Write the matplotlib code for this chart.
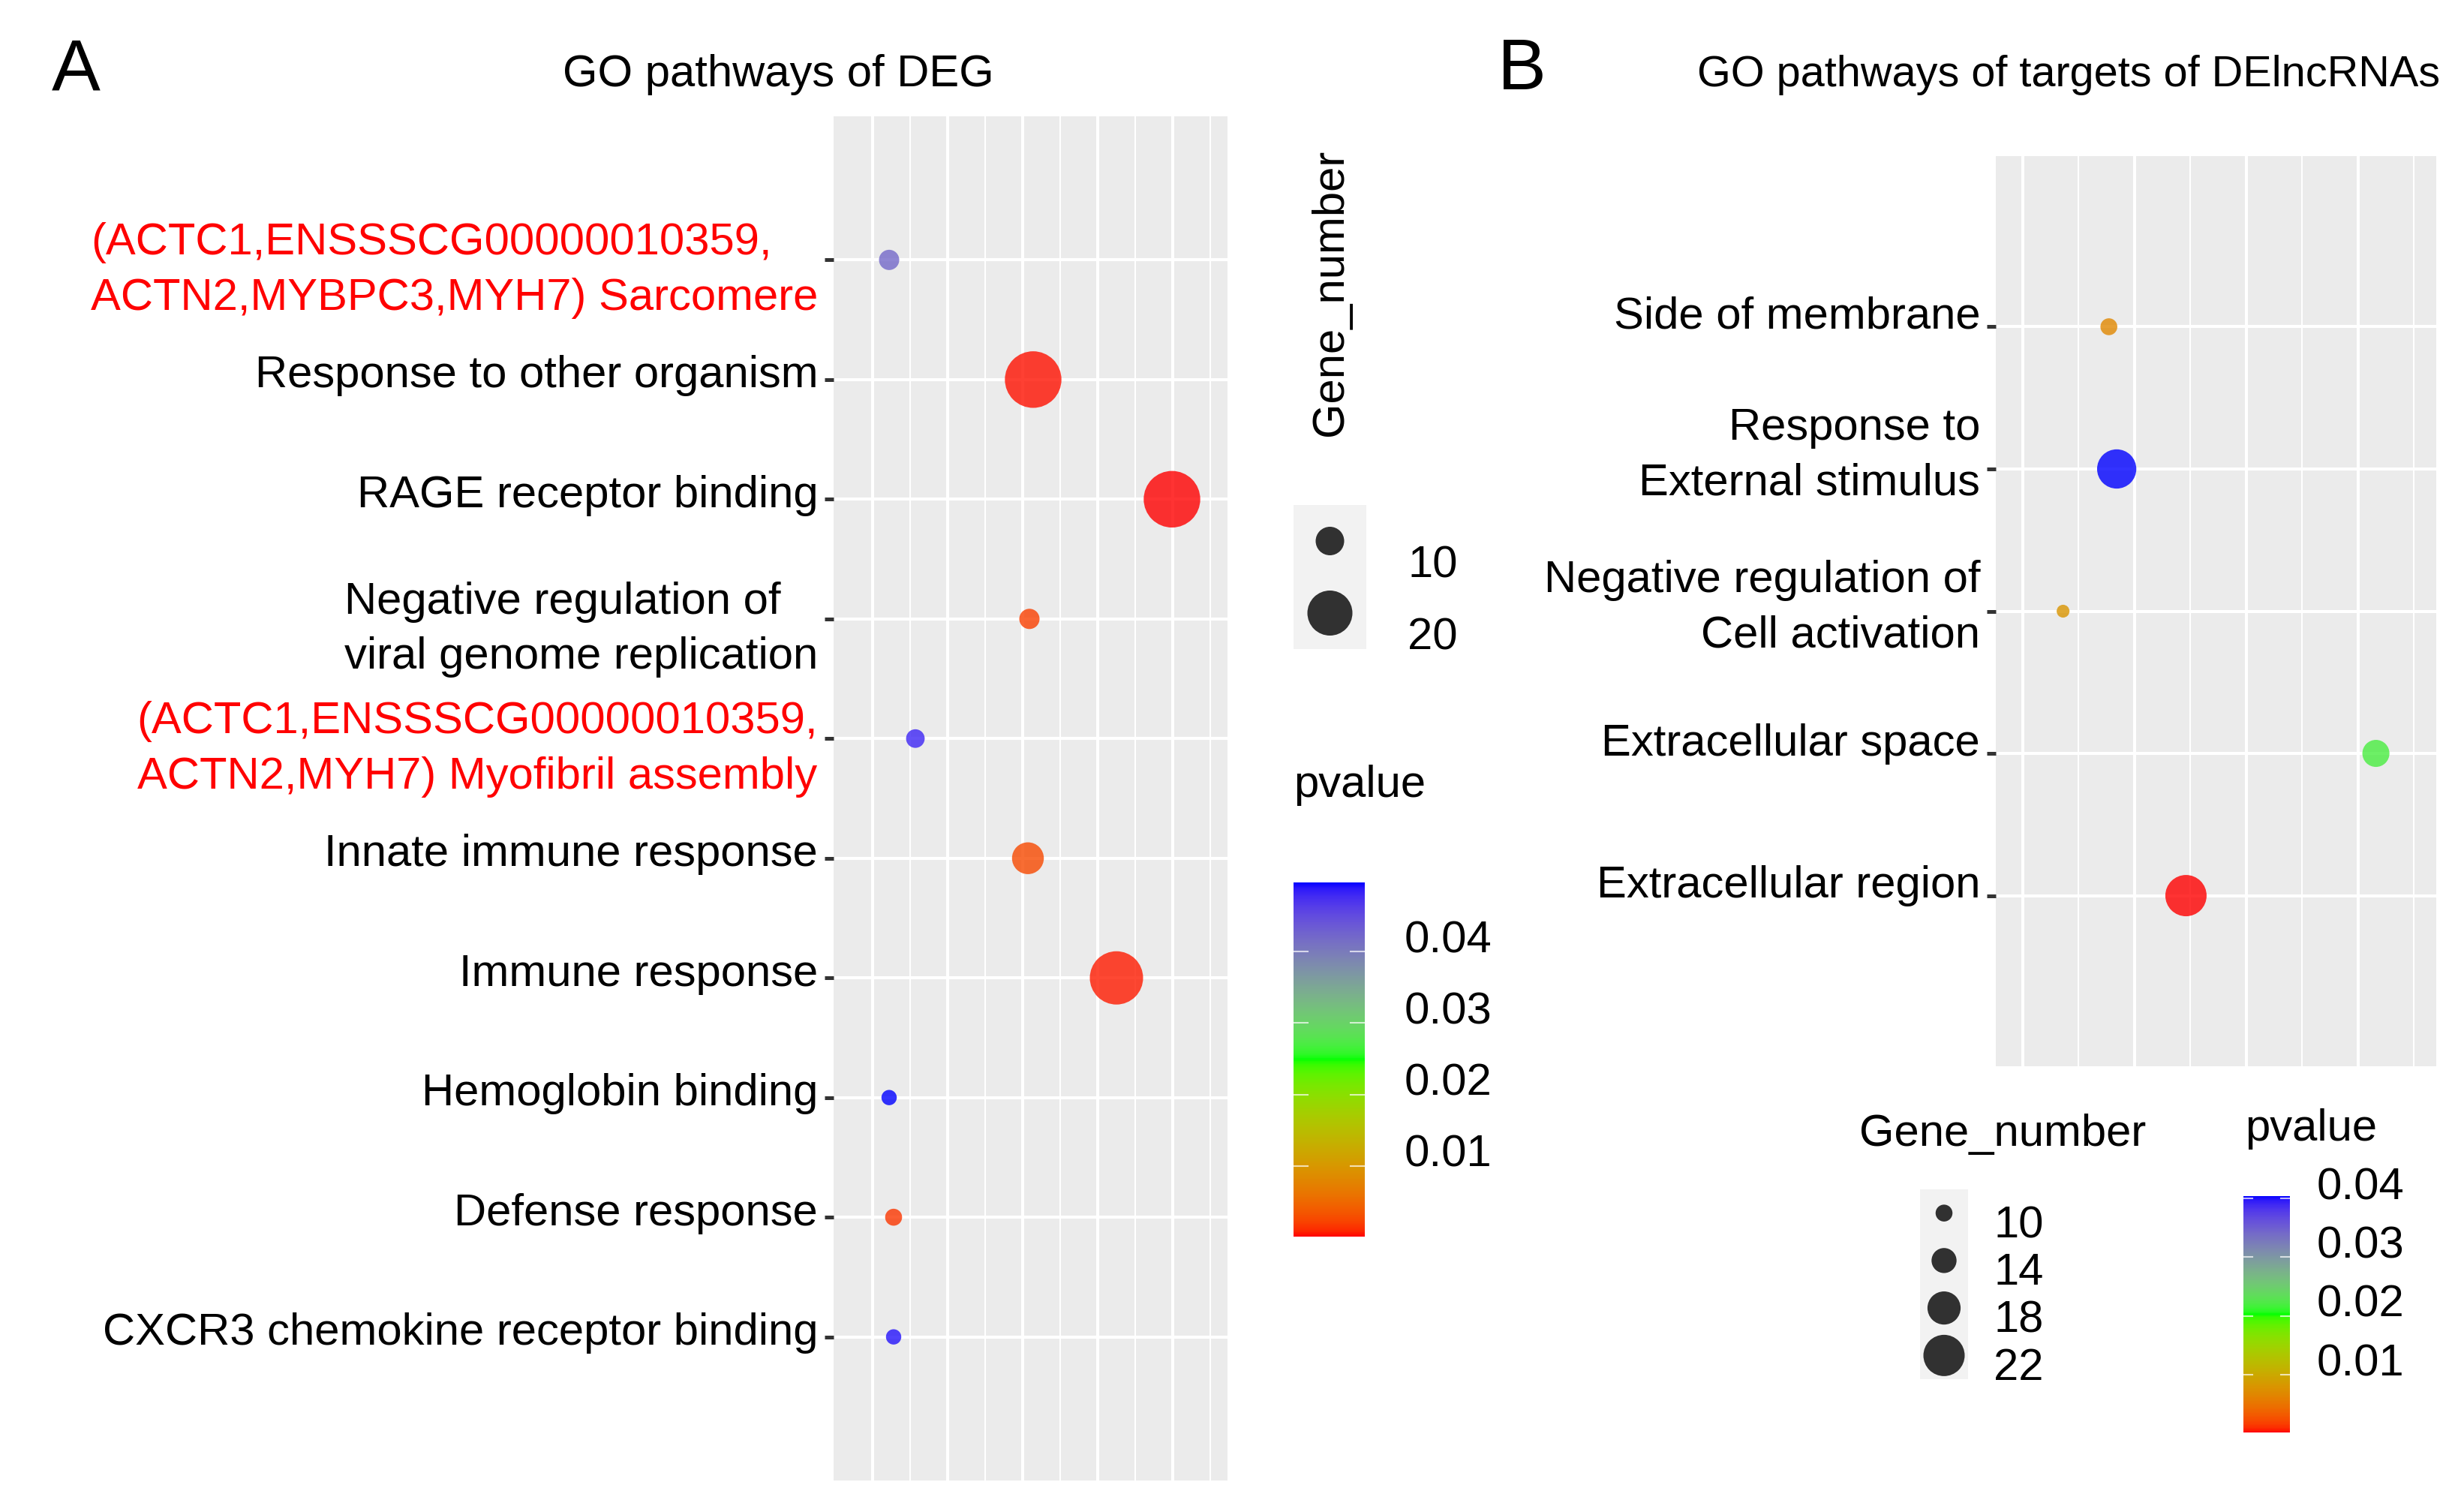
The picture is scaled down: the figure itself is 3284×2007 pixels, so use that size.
import numpy as np
import matplotlib
matplotlib.use("Agg")
import matplotlib.pyplot as plt
import matplotlib.colorbar as mcolorbar
from matplotlib.colors import ListedColormap, Normalize
from matplotlib import transforms

plt.rcParams['font.family'] = ['Liberation Sans', 'DejaVu Sans']

W, H, DPI = 3284, 2008, 100
FS = 43

# ---- panel A : GO pathways of DEG (top to bottom)
terms_a = ["(ACTC1,ENSSSCG00000010359,\nACTN2,MYBPC3,MYH7) Sarcomere",
           "Response to other organism",
           "RAGE receptor binding",
           "Negative regulation of\nviral genome replication",
           "(ACTC1,ENSSSCG00000010359,\nACTN2,MYH7) Myofibril assembly",
           "Innate immune response",
           "Immune response",
           "Hemoglobin binding",
           "Defense response",
           "CXCR3 chemokine receptor binding"]
red_a = [True, False, False, False, True, False, False, False, False, False]
x_a = [1.22, 3.14, 4.99, 3.09, 1.57, 3.07, 4.25, 1.22, 1.28, 1.28]
genes_a = [5, 27, 27, 5, 4, 12, 25, 2, 3, 2]
pval_a = [0.042, 0.0004, 0.0001, 0.002, 0.048, 0.0025, 0.0006, 0.0497, 0.0015, 0.049]
gene_breaks_a = [10, 20]

# ---- panel B : GO pathways of targets of DElncRNAs
terms_b = ["Side of membrane",
           "Response to\nExternal stimulus",
           "Negative regulation of\nCell activation",
           "Extracellular space",
           "Extracellular region"]
x_b = [1.77, 1.84, 1.36, 4.16, 2.46]
genes_b = [10, 21, 8, 15, 22]
pval_b = [0.0067, 0.0404, 0.0079, 0.022, 0.0002]
gene_breaks_b = [10, 14, 18, 22]

p_breaks = [0.01, 0.02, 0.03, 0.04]


# red -> green -> blue, interpolated in Lab like ggplot's gradient2
M = np.array([[0.4124564, 0.3575761, 0.1804375],
              [0.2126729, 0.7151522, 0.0721750],
              [0.0193339, 0.1191920, 0.9503041]])
WHITE = np.array([0.95047, 1.0, 1.08883])


def to_lab(c):
    c = np.asarray(c, float)
    lin = np.where(c <= 0.04045, c / 12.92, ((c + 0.055) / 1.055) ** 2.4)
    xyz = M @ lin / WHITE
    f = np.where(xyz > (6 / 29) ** 3, np.cbrt(xyz), xyz / (3 * (6 / 29) ** 2) + 4 / 29)
    return np.array([116 * f[1] - 16, 500 * (f[0] - f[1]), 200 * (f[1] - f[2])])


def from_lab(lab):
    L, a, b = lab
    fy_ = (L + 16) / 116
    f = np.array([fy_ + a / 500, fy_, fy_ - b / 200])
    xyz = np.where(f > 6 / 29, f ** 3, 3 * (6 / 29) ** 2 * (f - 4 / 29)) * WHITE
    lin = np.clip(np.linalg.solve(M, xyz), 0, 1)
    return np.clip(np.where(lin <= 0.0031308, 12.92 * lin, 1.055 * lin ** (1 / 2.4) - 0.055), 0, 1)


stops = [to_lab(c) for c in ([1, 0, 0], [0, 1, 0], [0, 0, 1])]
cols = []
for t in np.linspace(0, 1, 256):
    if t <= 0.5:
        lab = stops[0] + (stops[1] - stops[0]) * (t / 0.5)
    else:
        lab = stops[1] + (stops[2] - stops[1]) * ((t - 0.5) / 0.5)
    cols.append(from_lab(lab))
cmap = ListedColormap(cols)


def fx(x):
    return x / W


def fy(y):
    return 1 - y / H


def size_scale(v, vals, dmin, dmax):
    lo, hi = min(vals), max(vals)
    d = dmin + (dmax - dmin) * (np.asarray(v, float) - lo) / (hi - lo)
    return (d * 72 / DPI) ** 2


def panel(box, terms, xs, genes, pvals, xlim, majors, dmin, dmax):
    ax = fig.add_axes([fx(box[0]), fy(box[3]), (box[2] - box[0]) / W, (box[3] - box[1]) / H])
    n = len(terms)
    norm = Normalize(min(pvals), max(pvals))
    ax.set_facecolor('#ebebeb')
    ax.scatter(xs, range(n), s=size_scale(genes, genes, dmin, dmax),
               c=pvals, cmap=cmap, norm=norm, alpha=0.8, linewidths=0, zorder=3)
    ax.set_xlim(*xlim)
    ax.set_ylim(n - 1 + 1.2, -1.2)
    ax.set_xticks(majors)
    ax.set_xticks([m + 0.5 for m in majors], minor=True)
    ax.set_yticks(range(n))
    ax.set_yticklabels(terms, linespacing=1.43)
    ax.grid(which='major', color='white', lw=2.9)
    ax.grid(which='minor', axis='x', color='white', lw=1.45)
    ax.set_axisbelow(True)
    for s in ax.spines.values():
        s.set_visible(False)
    ax.tick_params(axis='x', which='both', length=0, labelbottom=False)
    ax.tick_params(axis='y', length=9, width=3.6, color='#333333', pad=6, labelsize=FS)
    return ax, norm


def nudge(ax, offsets):
    # ggplot placed the axis texts a little above their ticks
    for lbl, dy in zip(ax.get_yticklabels(), offsets):
        lbl.set_transform(lbl.get_transform() +
                          transforms.ScaledTranslation(0, dy / DPI, fig.dpi_scale_trans))


def size_legend(box, breaks, genes, dmin, dmax, label_x):
    kax = fig.add_axes([fx(box[0]), fy(box[3]), (box[2] - box[0]) / W, (box[3] - box[1]) / H])
    kax.set_facecolor('#f2f2f2')
    n = len(breaks)
    kax.scatter([0.5] * n, [i + 0.5 for i in range(n)], s=size_scale(breaks, genes, dmin, dmax),
                color='black', alpha=0.8, linewidths=0)
    kax.set_xlim(0, 1)
    kax.set_ylim(n, 0)
    kax.set_xticks([])
    kax.set_yticks([])
    for s in kax.spines.values():
        s.set_visible(False)
    cell = (box[3] - box[1]) / n
    for i, b in enumerate(breaks):
        fig.text(fx(label_x), fy(box[1] + (i + 1) * cell), str(b), fontsize=FS, va='baseline')


def color_legend(box, norm, label_x):
    cax = fig.add_axes([fx(box[0]), fy(box[3]), (box[2] - box[0]) / W, (box[3] - box[1]) / H])
    cb = mcolorbar.ColorbarBase(cax, cmap=cmap, norm=norm, orientation='vertical')
    cb.outline.set_visible(False)
    cax.set_yticks([])
    cax.set_xticks([])
    tr = transforms.blended_transform_factory(cax.transAxes, cax.transData)
    lx = (label_x - box[0]) / (box[2] - box[0])
    for v in p_breaks:
        cax.plot([0, 0.2], [v, v], color='white', alpha=0.7, lw=1.5, transform=tr)
        cax.plot([0.8, 1], [v, v], color='white', alpha=0.7, lw=1.5, transform=tr)
        cax.text(lx, v, str(v), fontsize=FS, va='baseline', ha='left', transform=tr, clip_on=False)


fig = plt.figure(figsize=(W / DPI, H / DPI), dpi=DPI)

# panel A
ax_a, norm_a = panel((1111, 156, 1636, 1974), terms_a, x_a, genes_a, pval_a,
                     (0.48, 5.73), [1, 2, 3, 4, 5], 20.4, 75.4)
for lbl, r in zip(ax_a.get_yticklabels(), red_a):
    lbl.set_multialignment('left')
    lbl.set_color('red' if r else 'black')

fig.text(fx(69), fy(119), "A", fontsize=70, va='baseline')
fig.text(fx(1037), fy(115), "GO pathways of DEG", fontsize=FS, ha='center', va='baseline')
fig.text(fx(1773), fy(390), "Gene_number", fontsize=FS, rotation=90, ha='center', va='center')
size_legend((1724, 674, 1821, 866), gene_breaks_a, genes_a, 20.4, 75.4, 1876)
fig.text(fx(1724), fy(1062), "pvalue", fontsize=FS, va='baseline')
color_legend((1724, 1177, 1819, 1649), norm_a, 1872)

# panel B
ax_b, norm_b = panel((2660, 209, 3247, 1422), terms_b, x_b, genes_b, pval_b,
                     (0.758, 4.70), [1, 2, 3, 4], 17.1, 55.0)

fig.text(fx(1996), fy(119), "B", fontsize=70, va='baseline')
fig.text(fx(2262), fy(115), "GO pathways of targets of DElncRNAs", fontsize=41.5,
         ha='left', va='baseline')
fig.text(fx(2478), fy(1527), "Gene_number", fontsize=FS, va='baseline')
size_legend((2559, 1586, 2623, 1839), gene_breaks_b, genes_b, 17.1, 55.0, 2657)
fig.text(fx(2992), fy(1520), "pvalue", fontsize=FS, va='baseline')
color_legend((2990, 1595, 3052, 1910), norm_b, 3088)

nudge(ax_a, [2 if "\n" in t else 12 for t in terms_a])
nudge(ax_b, [20, 34, 20, 20, 20])

fig.savefig("out.png", dpi=DPI)
